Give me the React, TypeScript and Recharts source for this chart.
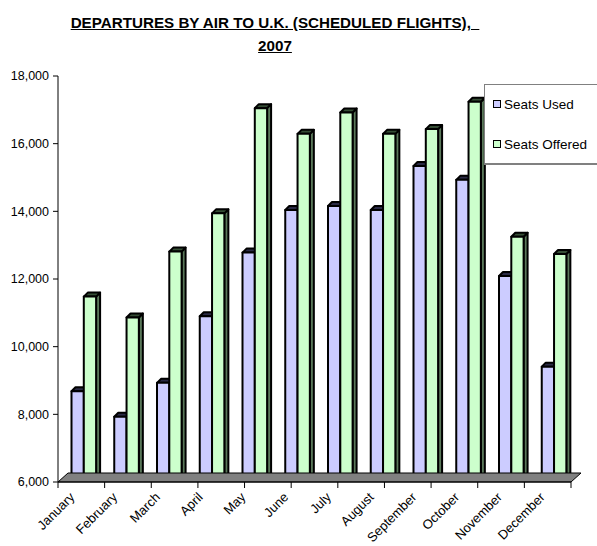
import { BarChart, Bar, XAxis, YAxis, ReferenceLine } from 'recharts'

const months = [
  'January', 'February', 'March', 'April', 'May', 'June',
  'July', 'August', 'September', 'October', 'November', 'December',
]
const seatsUsed = [8680, 7930, 8930, 10900, 12780, 14040, 14160, 14040, 15340, 14930, 12090, 9410]
const seatsOffered = [11480, 10860, 12810, 13940, 17050, 16290, 16920, 16290, 16430, 17240, 13250, 12740]
const yTicks = [6000, 8000, 10000, 12000, 14000, 16000, 18000]
const seriesNames = ['Seats Used', 'Seats Offered']
const titleLines = ['DEPARTURES BY AIR TO U.K. (SCHEDULED FLIGHTS),  ', '2007']

const FONT = '"Liberation Sans", Arial, sans-serif'

const tones = [
  { front: '#ccccff', top: '#2a2a45', side: '#5f5f88' },
  { front: '#ccffcc', top: '#354d35', side: '#5a785a' },
]

const data = months.map((m, i) => ({ month: m, used: seatsUsed[i], offered: seatsOffered[i] }))
const boundaries = months.map((_, i) => i).concat(months.length)

const fmt = (n: number) => n.toLocaleString('en-US')

// fake 3D column: front face, top cap, right side
function Column3D(props: any) {
  const { x, y, width, height, tone } = props
  if (!isFinite(x) || !isFinite(y)) return null
  const shift = 4.5
  const lift = 3
  const d = 4
  const e = 4
  const l = x + shift
  const r = l + width
  const t = y
  const b = y + height - lift
  const s = { stroke: '#000', strokeWidth: 2, strokeLinejoin: 'round' as const }
  return (
    <g>
      <polygon points={`${r},${t} ${r + d},${t - e} ${r + d},${b - e} ${r},${b}`} fill={tone.side} {...s} />
      <polygon points={`${l},${t} ${l + d},${t - e} ${r + d},${t - e} ${r},${t}`} fill={tone.top} {...s} />
      <rect x={l} y={t} width={width} height={Math.max(0, b - t)} fill={tone.front} {...s} />
    </g>
  )
}

function Floor(props: any) {
  const { x1, y1, x2 } = props
  const d = 10
  const e = 9
  return (
    <polygon
      points={`${x1},${y1} ${x2},${y1} ${x2 + d},${y1 - e} ${x1 + d},${y1 - e}`}
      fill="#808080"
      stroke="#000"
      strokeWidth={1}
    />
  )
}

// short tick mark below the axis at each category boundary
function BoundaryTick(props: any) {
  const { x1, y1, y2 } = props
  const bottom = Math.max(y1, y2)
  return <line x1={x1} y1={bottom} x2={x1} y2={bottom + 6} stroke="#000" strokeWidth={1} />
}

function MonthTick({ x, y, payload }: any) {
  const ax = x - 4
  const ay = y + 16
  return (
    <text
      x={ax}
      y={ay}
      transform={`rotate(-45 ${ax} ${ay})`}
      textAnchor="end"
      fontSize={13}
      fontFamily={FONT}
      fill="#000"
    >
      {payload.value}
    </text>
  )
}

export default function App() {
  return (
    <div style={{ position: 'absolute', left: 0, top: 0, width: 597, height: 546, background: '#fff', fontFamily: FONT }}>
      {titleLines.map((line, i) => (
        <div
          key={i}
          style={{
            position: 'absolute',
            left: 0,
            top: 11 + i * 23,
            width: 550,
            lineHeight: '23px',
            textAlign: 'center',
            fontWeight: 'bold',
            fontSize: 15.2,
            textDecoration: 'underline',
            whiteSpace: 'pre',
            color: '#000',
          }}
        >
          {line}
        </div>
      ))}
      <div style={{ position: 'absolute', left: 0, top: 0 }}>
        <BarChart
          width={597}
          height={546}
          data={data}
          margin={{ top: 76, right: 26, left: 0, bottom: 0 }}
          barGap={0}
          barSize={12.3}
        >
          <ReferenceLine y={6000} xAxisId="edge" yAxisId="v" shape={Floor} />
          {boundaries.map((b) => (
            <ReferenceLine key={b} x={b} xAxisId="edge" yAxisId="v" shape={BoundaryTick} />
          ))}
          <XAxis
            xAxisId="cat"
            dataKey="month"
            height={64}
            axisLine={{ stroke: '#000' }}
            tickLine={false}
            tickSize={0}
            tickMargin={0}
            interval={0}
            tick={MonthTick}
          />
          <XAxis
            xAxisId="edge"
            type="number"
            domain={[0, months.length]}
            hide
            allowDataOverflow
          />
          <YAxis
            yAxisId="v"
            domain={[6000, 18000]}
            ticks={yTicks}
            width={58}
            tickSize={5}
            tickMargin={4}
            tickFormatter={fmt}
            axisLine={{ stroke: '#000' }}
            tickLine={{ stroke: '#000' }}
            tick={{ fill: '#000', fontSize: 12.5, fontFamily: FONT }}
            allowDataOverflow
          />
          <Bar
            xAxisId="cat"
            yAxisId="v"
            dataKey="used"
            name={seriesNames[0]}
            isAnimationActive={false}
            shape={(p: any) => <Column3D {...p} tone={tones[0]} />}
          />
          <Bar
            xAxisId="cat"
            yAxisId="v"
            dataKey="offered"
            name={seriesNames[1]}
            isAnimationActive={false}
            shape={(p: any) => <Column3D {...p} tone={tones[1]} />}
          />
        </BarChart>
      </div>
      <div
        style={{
          position: 'absolute',
          left: 484,
          top: 84,
          width: 130,
          height: 78,
          borderTop: '1px solid #808080',
          borderLeft: '1px solid #808080',
          borderBottom: '2px solid #808080',
          background: '#fff',
          fontSize: 13.5,
          color: '#000',
        }}
      >
        {seriesNames.map((name, i) => (
          <div key={name} style={{ position: 'absolute', left: 8, top: 11 + i * 40, height: 16, display: 'flex', alignItems: 'center' }}>
            <span
              style={{
                display: 'inline-block',
                width: 6,
                height: 6,
                border: '1.5px solid #000',
                background: tones[i].front,
                marginRight: 3,
              }}
            />
            <span>{name}</span>
          </div>
        ))}
      </div>
    </div>
  )
}
